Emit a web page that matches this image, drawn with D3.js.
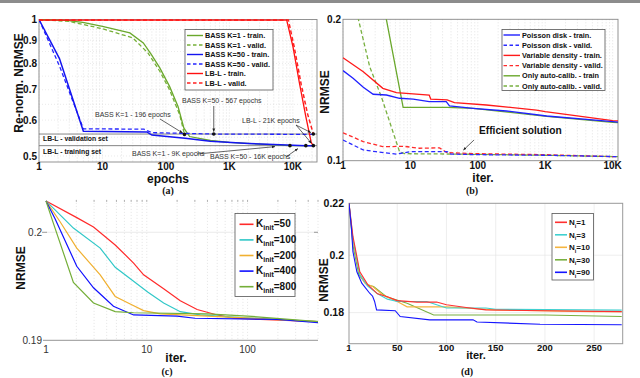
<!DOCTYPE html>
<html>
<head>
<meta charset="utf-8">
<script src="https://cdn.jsdelivr.net/npm/d3@7"></script>
<style>
  body { margin: 0; background: #fff; }
  svg { display: block; font-family: "Liberation Sans", Arial, sans-serif; }
</style>
</head>
<body>
<svg id="fig" width="640" height="378"></svg>
<script>
// ---------- panel (a) data : epochs vs re-normalised NRMSE ----------
var aBass1Train = [[1,1],[2.7,0.996],[4.9,0.986],[10,0.966],[27,0.934],[44,0.888],[59,0.837],[80,0.782],[114,0.712],[155,0.643],[192,0.576],[236,0.552],[500,0.541],[1000,0.536],[3000,0.531],[9000,0.527],[22000,0.527]];
var aBass1Valid = [[1,1],[3,0.99],[10,0.954],[30,0.911],[52,0.844],[80,0.769],[114,0.70],[165,0.616],[196,0.558]];
var aBass50Train = [[1,1],[2.1,0.82],[5,0.567],[50,0.565],[60,0.556],[200,0.547],[500,0.539],[2000,0.533],[5000,0.53],[16000,0.527],[22000,0.527]];
var aBass50Valid = [[1,1],[2.1,0.79],[5,0.574],[45,0.573],[60,0.563],[567,0.559],[22000,0.558]];
var aLbTrain = [[1,0.997],[8000,0.997],[10000,0.873],[12700,0.724],[16000,0.611],[19500,0.535],[21000,0.527]];
var aLbValid = [[1,0.997],[8500,0.997],[10500,0.87],[13500,0.72],[17000,0.62],[21000,0.559]];
var aRefLevels = [0.559, 0.527];
var aRefNames = ['LB-L - validation set', 'LB-L - training set'];
var aMarks = [[196,0.558],[567,0.559],[9000,0.527],[16000,0.527],[21000,0.559],[21000,0.527]];
var aXTicks = [1, 10, 100, 1000, 10000];
var aXTickLabels = ['1', '10', '100', '1K', '10K'];
var aYTicks = [0.5, 0.6, 0.7, 0.8, 0.9, 1];
var aYTickLabels = ['0.5', '0.6', '0.7', '0.8', '0.9', '1'];
var aLegend = ['BASS K=1 - train.', 'BASS K=1 - valid.', 'BASS K=50 - train.', 'BASS K=50 - valid.', 'LB-L - train.', 'LB-L - valid.'];

// ---------- panel (b) data : iterations vs NRMSE ----------
var bPoissonTrain = [[1,0.1555],[1.41,0.1498],[2,0.1433],[2.8,0.1385],[4.4,0.138],[6.9,0.1358],[11,0.1353],[19,0.1336],[34,0.1336],[38,0.1308],[85,0.1293],[265,0.1276],[1050,0.1245],[10000,0.1211],[12000,0.1208]];
var bPoissonValid = [[1,0.1107],[2,0.1054],[3.1,0.1045],[6.2,0.1033],[10,0.1045],[35,0.1045],[40,0.1033],[100,0.103],[1000,0.1027],[12000,0.102]];
var bVarTrain = [[1,0.1657],[2,0.1547],[3.9,0.1426],[6.2,0.1396],[19,0.138],[20,0.1353],[35,0.1347],[45,0.1329],[134,0.1314],[741,0.1282],[1000,0.1272],[10000,0.1217],[12000,0.1215]];
var bVarValid = [[1,0.1147],[2,0.1098],[3.9,0.1071],[8,0.1073],[13.7,0.1063],[27,0.1065],[35,0.104],[100,0.1035],[1000,0.103],[10000,0.102],[12000,0.102]];
var bAutoTrain = [[3.9,0.2188],[7.8,0.1299],[35,0.1299],[85,0.1293],[1050,0.1243],[10000,0.1207],[12000,0.1205]];
var bAutoValid = [[1.5,0.215],[2.49,0.1585],[3.7,0.1369],[5.2,0.1181],[6.9,0.1045],[8.2,0.1035],[50,0.1033],[1000,0.1027],[12000,0.102]];
var bXTicks = [1, 10, 100, 1000, 10000];
var bXTickLabels = ['1', '10', '100', '1K', '10K'];
var bYTicks = [0.1, 0.2];
var bLegend = ['Poisson disk - train.', 'Poisson disk - valid.', 'Variable density - train.', 'Variable density - valid.', 'Only auto-calib. - train', 'Only auto-calib. - valid.'];

// ---------- panel (c) data : K_init ----------
var cK50 = [[1,0.203],[2.02,0.2014],[2.96,0.2005],[4.86,0.1988],[7.4,0.1971],[9.3,0.196],[14.7,0.1947],[21.5,0.1936],[31.6,0.1928],[50,0.1923],[73,0.192],[500,0.1917]];
var cK100 = [[1,0.203],[1.87,0.2004],[3.45,0.1985],[4.86,0.1967],[7.4,0.1954],[10.2,0.1944],[14.7,0.1934],[21.5,0.1926],[34,0.1923],[73,0.1921],[500,0.1917]];
var cK200 = [[1,0.203],[1.38,0.201],[2.02,0.1985],[3.45,0.196],[4.86,0.194],[6.85,0.1933],[9.3,0.1927],[13.6,0.1924],[40,0.1922],[500,0.1917]];
var cK400 = [[1,0.203],[1.23,0.2013],[2.02,0.1968],[2.96,0.1948],[4.67,0.1931],[7.4,0.1923],[20,0.1922],[30,0.192],[200,0.1919],[500,0.1916]];
var cK800 = [[1,0.203],[1.18,0.2009],[1.87,0.1953],[2.96,0.1934],[4.86,0.1926],[7.4,0.1925],[40,0.1924],[100,0.1922],[500,0.1917]];
var cXTicks = [1, 10, 100];
var cYTicks = [0.19, 0.2];
var cLegendValues = ['50', '100', '200', '400', '800'];

// ---------- panel (d) data : N_i ----------
var dN1 = [[1,0.22],[5,0.207],[12,0.194],[20,0.1895],[30,0.1863],[40,0.1853],[50,0.184],[70,0.1835],[90,0.1835],[100,0.1826],[120,0.1817],[140,0.1809],[200,0.1806],[278,0.1803]];
var dN3 = [[1,0.22],[5,0.206],[12,0.193],[20,0.189],[30,0.1863],[40,0.1845],[50,0.1837],[80,0.1837],[90,0.1826],[100,0.1815],[140,0.1815],[150,0.1811],[278,0.1808]];
var dN10 = [[1,0.22],[5,0.205],[12,0.193],[17,0.19],[25,0.1888],[35,0.186],[50,0.1837],[60,0.1819],[100,0.1819],[150,0.1809],[250,0.1803],[278,0.1803]];
var dN30 = [[1,0.22],[5,0.2038],[11,0.1929],[19,0.1894],[26,0.1888],[39,0.1853],[60,0.1831],[87,0.1792],[200,0.1792],[278,0.1787]];
var dN90 = [[1,0.22],[3.5,0.21],[5,0.2013],[9,0.194],[14,0.19],[22,0.1865],[25,0.1855],[27,0.1837],[29,0.1809],[48,0.1806],[53,0.1787],[83,0.1776],[127,0.1776],[131,0.1769],[195,0.1762],[278,0.176]];
var dXTicks = [1, 50, 100, 150, 200, 250];
var dYTicks = [0.18, 0.2, 0.22];
var dLegendValues = ['1', '3', '10', '30', '90'];

var svg = d3.select('#fig');
var defs = svg.append('defs');
defs.append('marker')
    .attr('id', 'arrow')
    .attr('viewBox', '0 0 10 10')
    .attr('refX', 9).attr('refY', 5)
    .attr('markerWidth', 5).attr('markerHeight', 5)
    .attr('orient', 'auto')
  .append('path')
    .attr('d', 'M0,1 L10,5 L0,9 z')
    .attr('fill', '#222');

// top grey rule
svg.append('rect').attr('x', 0).attr('y', 0).attr('width', 640).attr('height', 3).attr('fill', '#8c8c8c');

// Helper functions
function logMinor(lo, hi) {
  var out = [];
  for (var e = Math.floor(Math.log10(lo)); e <= Math.ceil(Math.log10(hi)); e++) {
    for (var m = 1; m < 10; m++) {
      var v = m * Math.pow(10, e);
      if (v >= lo && v <= hi) out.push(v);
    }
  }
  return out;
}

function series(g, data, x, y, color, dashed, width) {
  g.append('path')
   .datum(data)
   .attr('d', d3.line().x(function(d) { return x(d[0]); }).y(function(d) { return y(d[1]); }))
   .attr('fill', 'none')
   .attr('stroke', color)
   .attr('stroke-width', width || 1.3)
   .attr('stroke-dasharray', dashed ? '4,2.5' : null);
}

function clipFor(id, x0, y0, x1, y1) {
  defs.append('clipPath').attr('id', id)
      .append('rect').attr('x', x0).attr('y', y0).attr('width', x1 - x0).attr('height', y1 - y0);
  return 'url(#' + id + ')';
}

function vGrid(g, vals, x, y0, y1, color, dash) {
  g.selectAll(null).data(vals).enter().append('line')
   .attr('x1', function(d) { return x(d); }).attr('x2', function(d) { return x(d); })
   .attr('y1', y0).attr('y2', y1)
   .attr('stroke', color).attr('stroke-width', 0.6)
   .attr('stroke-dasharray', dash);
}

function hGrid(g, vals, y, x0, x1, color, dash, width) {
  g.selectAll(null).data(vals).enter().append('line')
   .attr('y1', function(d) { return y(d); }).attr('y2', function(d) { return y(d); })
   .attr('x1', x0).attr('x2', x1)
   .attr('stroke', color).attr('stroke-width', width || 0.6)
   .attr('stroke-dasharray', dash);
}

function label(txt, x, y, size, opts) {
  opts = opts || {};
  var t = svg.append('text')
     .attr('x', x).attr('y', y)
     .attr('font-size', size)
     .attr('font-weight', opts.weight || 'bold')
     .attr('text-anchor', opts.anchor || 'middle')
     .attr('fill', opts.fill || '#111')
     .text(txt);
  if (opts.family) t.attr('font-family', opts.family);
  if (opts.rotate) t.attr('transform', 'rotate(-90,' + x + ',' + y + ')');
  return t;
}

function caption(txt, x, y) {
  label(txt, x, y, 10, {family: '"Liberation Serif", "Times New Roman", serif'});
}

function arrow(x1, y1, x2, y2) {
  svg.append('line')
     .attr('x1', x1).attr('y1', y1).attr('x2', x2).attr('y2', y2)
     .attr('stroke', '#222').attr('stroke-width', 0.7)
     .attr('marker-end', 'url(#arrow)');
}

function legendBox(x0, y0, x1, y1) {
  svg.append('rect').attr('x', x0).attr('y', y0).attr('width', x1 - x0).attr('height', y1 - y0)
     .attr('fill', '#fff').attr('stroke', '#555').attr('stroke-width', 0.8);
}

// ================= panel (a) =================
(function() {
  var x = d3.scaleLog().domain([1, 24000]).range([39, 317]);
  var y = d3.scaleLog().domain([0.485, 1]).range([162, 19.5]);
  var g = svg.append('g');

  vGrid(g, logMinor(1, 24000), x, 19.5, 162, '#cfcfcf', '1,2');
  hGrid(g, aYTicks.concat([0.55, 0.65, 0.75, 0.85, 0.95]), y, 39, 317, '#dcdcdc', '1,2');
  g.append('rect').attr('x', 39).attr('y', 19.5).attr('width', 278).attr('height', 142.5)
   .attr('fill', 'none').attr('stroke', '#888').attr('stroke-width', 0.9);

  hGrid(g, aRefLevels, y, 39, 317, '#777', null, 0.9);

  var lines = g.append('g').attr('clip-path', clipFor('clipA', 39, 19, 317, 162));
  series(lines, aBass1Valid, x, y, '#76b038', true);
  series(lines, aBass1Train, x, y, '#6aa82c', false);
  series(lines, aBass50Valid, x, y, '#2424ff', true);
  series(lines, aBass50Train, x, y, '#1414f0', false, 1.5);
  series(lines, aLbValid, x, y, '#ff2020', true, 1.5);
  series(lines, aLbTrain, x, y, '#ff1010', false);

  g.selectAll(null).data(aMarks).enter().append('circle')
   .attr('cx', function(d) { return x(d[0]); }).attr('cy', function(d) { return y(d[1]); })
   .attr('r', 1.8).attr('fill', '#111');

  aXTicks.forEach(function(v, i) { label(aXTickLabels[i], x(v), 169.5, 10); });
  aYTicks.forEach(function(v, i) { label(aYTickLabels[i], 37, y(v) + 3.5, 10, {anchor: 'end'}); });
  label('epochs', 168, 183, 12);
  label('Re-norm. NRMSE', 23, 83, 12, {rotate: true});
  caption('(a)', 168, 194);

  var bold = {anchor: 'start'};
  label(aRefNames[0], 43, 140.5, 6.8, bold);
  label(aRefNames[1], 43, 154, 6.8, bold);

  var small = {weight: 'normal', anchor: 'start', fill: '#333'};
  label('BASS K=1 - 196 epochs', 95, 117, 7, small);
  arrow(160, 119, x(196) - 2, y(0.558) - 1.5);
  label('BASS K=50 - 567 epochs', 182, 103, 7, small);
  arrow(x(567), 106, x(567), y(0.559) - 2.5);
  label('LB-L - 21K epochs', 242, 123, 7, small);
  arrow(296, 125, x(21000) - 2.5, y(0.559) - 1.5);
  arrow(296, 125, x(21000) - 2, y(0.527) - 2.5);
  label('BASS K=1 - 9K epochs', 132, 156, 7, small);
  arrow(197, 154, x(9000) - 15, y(0.527) + 1);
  label('BASS K=50 - 16K epochs', 210, 159, 7, small);
  arrow(286, 157, x(16000) - 8, y(0.527) + 3);

  legendBox(185, 29.5, 273, 90);
  var styles = [['#6aa82c', false], ['#76b038', true], ['#1414f0', false], ['#2424ff', true], ['#ff1010', false], ['#ff2020', true]];
  aLegend.forEach(function(name, i) {
    var yy = 35.5 + i * 9.5;
    svg.append('line').attr('x1', 187).attr('x2', 203).attr('y1', yy).attr('y2', yy)
       .attr('stroke', styles[i][0]).attr('stroke-width', 1.4)
       .attr('stroke-dasharray', styles[i][1] ? '3.5,2.5' : null);
    label(name, 205, yy + 2.6, 7.3, {anchor: 'start'});
  });
})();

// ================= panel (b) =================
(function() {
  var x = d3.scaleLog().domain([1, 12000]).range([343, 618]);
  var y = d3.scaleLog().domain([0.1, 0.2]).range([160.7, 19.3]);
  var g = svg.append('g');

  vGrid(g, logMinor(1, 12000), x, 19.3, 160.7, '#d0d0d0', '1,2');
  g.append('rect').attr('x', 343).attr('y', 19.3).attr('width', 275).attr('height', 141.4)
   .attr('fill', 'none').attr('stroke', '#888').attr('stroke-width', 0.9);

  var lines = g.append('g').attr('clip-path', clipFor('clipB', 343, 19.3, 618, 160.7));
  series(lines, bAutoValid, x, y, '#78b040', true);
  series(lines, bAutoTrain, x, y, '#6aa82c', false);
  series(lines, bVarValid, x, y, '#ff2a2a', true);
  series(lines, bPoissonValid, x, y, '#2a2aff', true);
  series(lines, bVarTrain, x, y, '#ff1a1a', false);
  series(lines, bPoissonTrain, x, y, '#2020ff', false);

  bXTicks.forEach(function(v, i) { label(bXTickLabels[i], x(v), 169, 10); });
  bYTicks.forEach(function(v) { label(String(v), 341, y(v) + 3.5, 10, {anchor: 'end'}); });
  label('iter.', 483, 182, 12);
  label('NRMSE', 329, 92, 12, {rotate: true});
  caption('(b)', 472, 194);

  label('Efficient solution', 479, 133.5, 10.2, {anchor: 'start'});
  arrow(474, 140, 463.5, 150);

  legendBox(502, 29.5, 605, 90.5);
  var styles = [['#2020ff', false], ['#2a2aff', true], ['#ff1a1a', false], ['#ff2a2a', true], ['#6aa82c', false], ['#78b040', true]];
  bLegend.forEach(function(name, i) {
    var yy = 35 + i * 10.2;
    svg.append('line').attr('x1', 503.5).attr('x2', 520).attr('y1', yy).attr('y2', yy)
       .attr('stroke', styles[i][0]).attr('stroke-width', 1.4)
       .attr('stroke-dasharray', styles[i][1] ? '3.5,2.5' : null);
    label(name, 522, yy + 2.6, 7.3, {anchor: 'start'});
  });
})();

// ================= panel (c) =================
(function() {
  var x = d3.scaleLog().domain([1, 500]).range([46, 318]);
  var y = d3.scaleLog().domain([0.19, 0.2031]).range([340.3, 199.9]);
  var g = svg.append('g');

  vGrid(g, logMinor(2, 500), x, 199.9, 340.3, '#d4d4d4', '1,2');
  g.selectAll(null).data(logMinor(2, 500)).enter().append('line')
   .attr('x1', function(d) { return x(d); }).attr('x2', function(d) { return x(d); })
   .attr('y1', 199.9).attr('y2', 202).attr('stroke', '#999').attr('stroke-width', 0.7);
  hGrid(g, [0.2], y, 46, 318, '#dedede', null);
  g.append('line').attr('x1', 42).attr('x2', 47).attr('y1', y(0.2)).attr('y2', y(0.2)).attr('stroke', '#999');
  g.append('line').attr('x1', 314).attr('x2', 318).attr('y1', y(0.2)).attr('y2', y(0.2)).attr('stroke', '#999');
  g.append('line').attr('x1', 43).attr('x2', 318).attr('y1', 340.3).attr('y2', 340.3).attr('stroke', '#aaa').attr('stroke-width', 1.2);

  var colors = ['#ff2a2a', '#30c8c8', '#f0b030', '#1010ff', '#74ae38'];
  var sets = [cK50, cK100, cK200, cK400, cK800];
  sets.forEach(function(s, i) { series(g, s, x, y, colors[i], false, 1.2); });

  cXTicks.forEach(function(v) { label(String(v), x(v), 352.5, 10, {weight: 'normal', fill: '#333'}); });
  cYTicks.forEach(function(v) { label(String(v), 42, y(v) + 3.5, 10, {anchor: 'end', weight: 'normal', fill: '#333'}); });
  label('iter.', 176, 362, 12);
  label('NRMSE', 25, 268, 12, {rotate: true});
  caption('(c)', 167, 375);

  legendBox(235, 213.5, 295, 296.5);
  cLegendValues.forEach(function(v, i) {
    var yy = 224.3 + i * 15.6;
    svg.append('line').attr('x1', 239.5).attr('x2', 253.5).attr('y1', yy).attr('y2', yy)
       .attr('stroke', colors[i]).attr('stroke-width', 1.6);
    var t = label('K', 256, yy + 3, 10, {anchor: 'start'});
    t.append('tspan').attr('font-size', 7).attr('dy', 3).text('init');
    t.append('tspan').attr('dy', -3).text('=' + v);
  });
})();

// ================= panel (d) =================
(function() {
  var x = d3.scaleLinear().domain([1, 279]).range([349, 622.7]);
  var y = d3.scaleLog().domain([0.17, 0.22]).range([343.7, 203.3]);
  var g = svg.append('g');

  vGrid(g, dXTicks.slice(1), x, 203.3, 343.7, '#e2e2e2', null);
  hGrid(g, [0.18, 0.2], y, 349, 622.7, '#e2e2e2', null);
  g.append('rect').attr('x', 349).attr('y', 203.3).attr('width', 273.7).attr('height', 140.4)
   .attr('fill', 'none').attr('stroke', '#999').attr('stroke-width', 1);

  var colors = ['#ff3030', '#40d0d0', '#f5b540', '#78b040', '#1515ff'];
  var sets = [dN1, dN3, dN10, dN30, dN90];
  var lines = g.append('g').attr('clip-path', clipFor('clipD', 349, 203, 623, 344));
  [3, 2, 1, 0, 4].forEach(function(i) { series(lines, sets[i], x, y, colors[i], false, 1.1); });

  dXTicks.forEach(function(v) { label(String(v), x(v), 351, 9.5); });
  dYTicks.forEach(function(v) { label(String(v), 344, y(v) + 3.5, 10.5, {anchor: 'end'}); });
  label('iter.', 476, 359, 11);
  label('NRMSE', 328, 280, 12, {rotate: true});
  caption('(d)', 467, 375);

  legendBox(552, 213.5, 593.5, 280);
  dLegendValues.forEach(function(v, i) {
    var yy = 222.3 + i * 12.5;
    svg.append('line').attr('x1', 555).attr('x2', 567).attr('y1', yy).attr('y2', yy)
       .attr('stroke', colors[i]).attr('stroke-width', 1.6);
    var t = label('N', 569, yy + 2.8, 8, {anchor: 'start'});
    t.append('tspan').attr('font-size', 5.5).attr('dy', 2.5).text('i');
    t.append('tspan').attr('dy', -2.5).text('=' + v);
  });
})();
</script>
</body>
</html>
